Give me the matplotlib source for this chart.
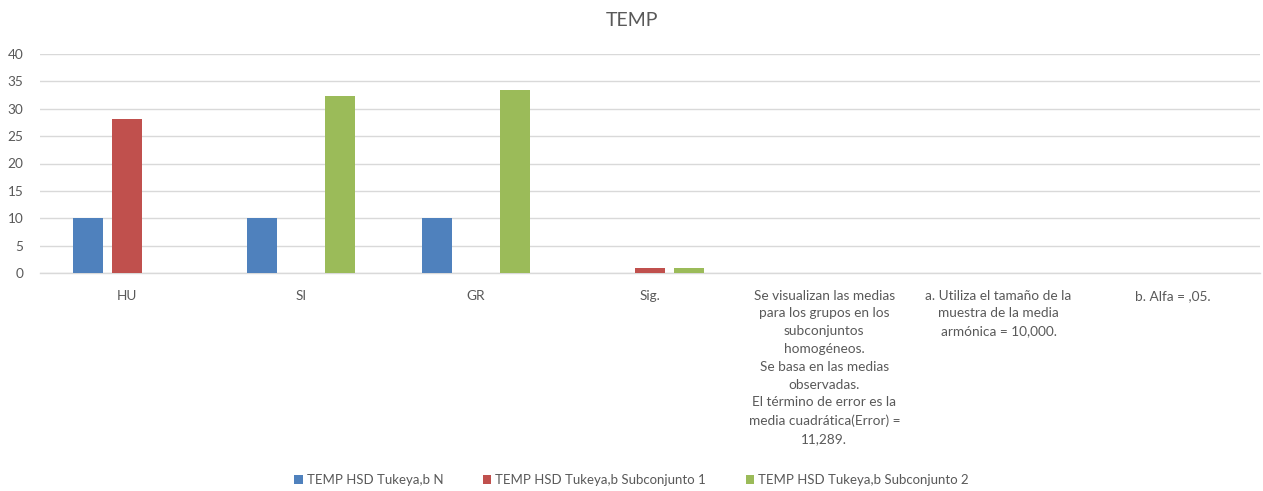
import matplotlib
matplotlib.use("Agg")
import matplotlib.pyplot as plt
import numpy as np

plt.rcParams['font.family'] = ['Lato', 'DejaVu Sans']

categories = [
    "HU",
    "SI",
    "GR",
    "Sig.",
    "Se visualizan las medias\npara los grupos en los\nsubconjuntos\nhomogéneos.\nSe basa en las medias\nobservadas.\nEl término de error es la\nmedia cuadrática(Error) =\n11,289.",
    "a. Utiliza el tamaño de la\nmuestra de la media\narmónica = 10,000.",
    "b. Alfa = ,05.",
]
series_names = [
    "TEMP HSD Tukeya,b N",
    "TEMP HSD Tukeya,b Subconjunto 1",
    "TEMP HSD Tukeya,b Subconjunto 2",
]
n_values = [10, 10, 10, np.nan, np.nan, np.nan, np.nan]
sub1_values = [28.1, np.nan, np.nan, 0.85, np.nan, np.nan, np.nan]
sub2_values = [np.nan, 32.4, 33.4, 0.85, np.nan, np.nan, np.nan]
yticks = [0, 5, 10, 15, 20, 25, 30, 35, 40]

colors = ["#4f81bd", "#c0504d", "#9bbb59"]
text_color = "#595959"
grid_color = "#d9d9d9"

fig = plt.figure(figsize=(12.63, 4.91), dpi=100)
ax = fig.add_axes([40 / 1263, 1 - 273 / 491, 1220 / 1263, (273 - 54) / 491])

x = np.arange(len(categories))
width = 0.172
step = 0.224
for i, (vals, name) in enumerate(zip([n_values, sub1_values, sub2_values], series_names)):
    ax.bar(x + (i - 1) * step, vals, width, color=colors[i], label=name, zorder=3)

ax.set_xlim(-0.5, len(categories) - 0.5)
ax.set_ylim(0, 40)
ax.set_yticks(yticks)
ax.yaxis.grid(True, color=grid_color, linewidth=1, zorder=0)
ax.set_axisbelow(True)
for side in ["top", "right", "left"]:
    ax.spines[side].set_visible(False)
ax.spines["bottom"].set_color(grid_color)
ax.spines["bottom"].set_linewidth(1)

ax.tick_params(axis="both", length=0, colors=text_color, labelsize=9.8)
ax.tick_params(axis="y", pad=12)
ax.tick_params(axis="x", pad=12)
ax.set_xticks(x)
ax.set_xticklabels(categories, linespacing=1.58, va="top")

fig.text(0.5, 1 - 20 / 491, "TEMP", ha="center", va="center",
         fontsize=14, color=text_color)

fig.legend(loc="center", bbox_to_anchor=(0.5, 1 - 480 / 491), ncol=3, frameon=False,
           handlelength=0.65, handleheight=0.65, handletextpad=0.3,
           columnspacing=3.0, fontsize=9.5, labelcolor=text_color)

fig.savefig("out.png", dpi=100)
